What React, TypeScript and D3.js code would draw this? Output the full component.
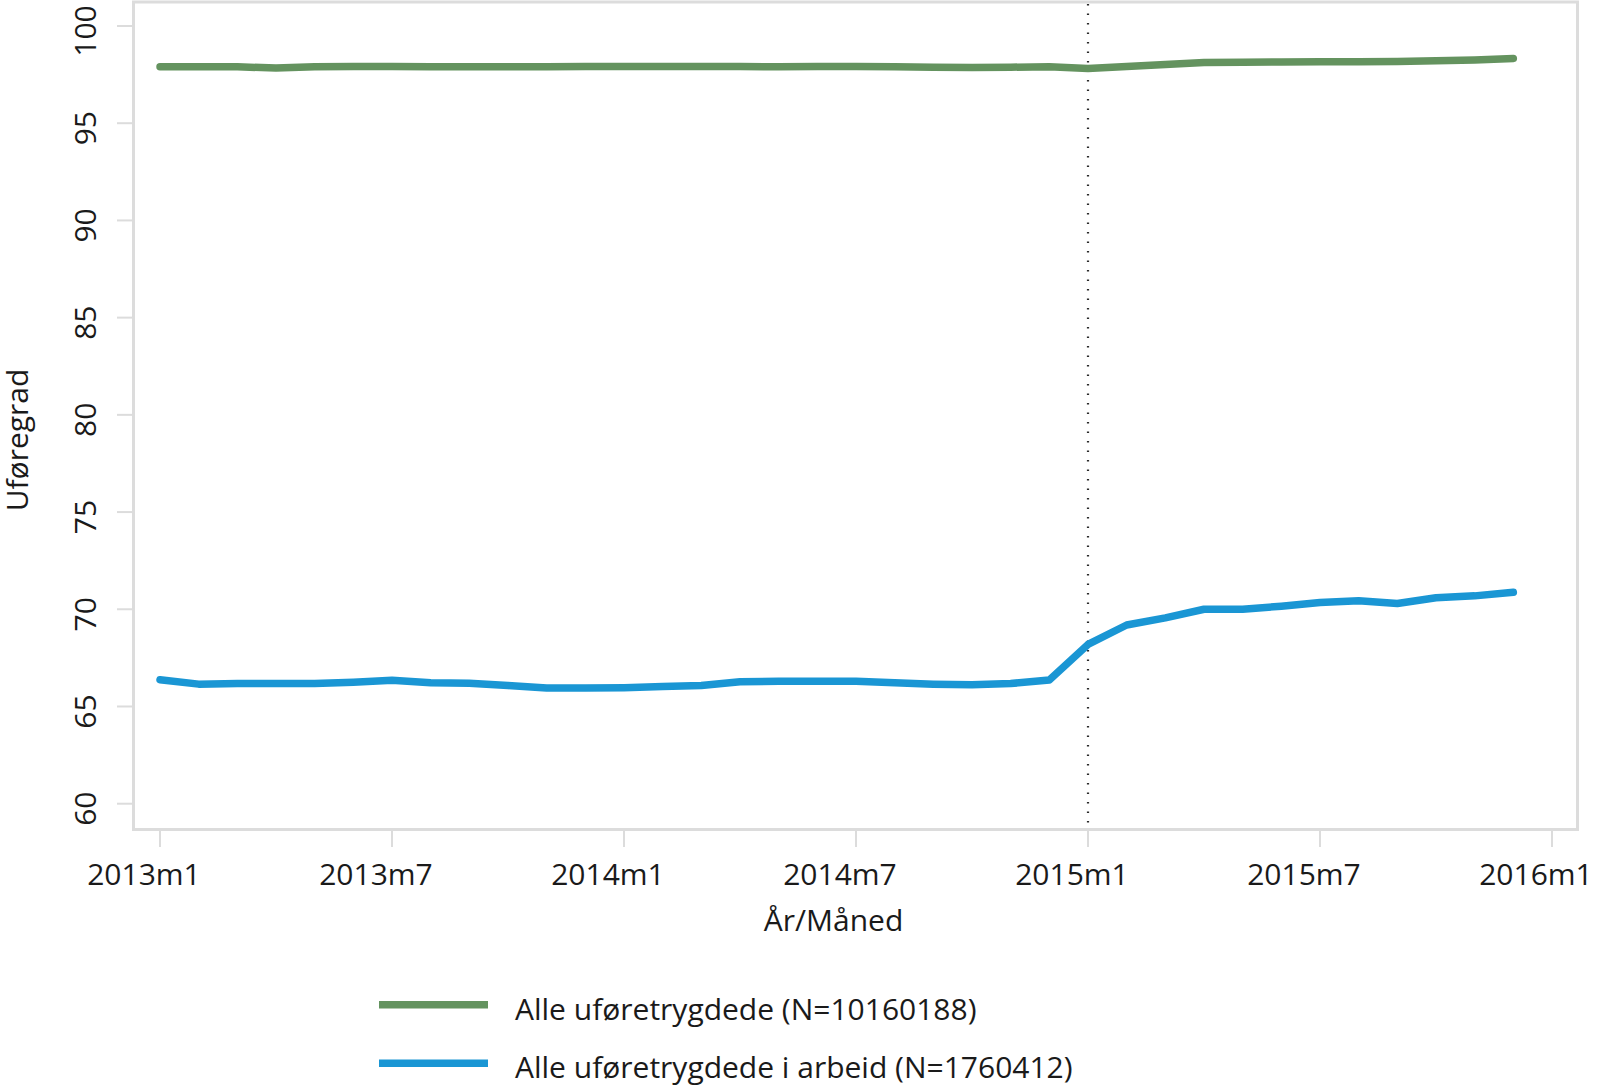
import React from "react";
import * as d3 from "d3";

const months: string[] = [];
for (const y of [2013, 2014, 2015]) for (let m = 1; m <= 12; m++) months.push(`${y}m${m}`);

const alleValues = [
  97.9, 97.9, 97.9, 97.84, 97.9, 97.92, 97.92, 97.9, 97.9, 97.9, 97.9, 97.92,
  97.92, 97.92, 97.92, 97.92, 97.9, 97.92, 97.92, 97.9, 97.88, 97.86, 97.88, 97.91,
  97.82, 97.92, 98.02, 98.12, 98.14, 98.15, 98.16, 98.16, 98.17, 98.21, 98.25, 98.33,
];
const arbeidValues = [
  66.38, 66.15, 66.18, 66.18, 66.18, 66.25, 66.35, 66.22, 66.19, 66.08, 65.95, 65.95,
  65.97, 66.03, 66.08, 66.27, 66.3, 66.3, 66.3, 66.22, 66.15, 66.12, 66.18, 66.36,
  68.19, 69.19, 69.56, 70.0, 70.0, 70.16, 70.35, 70.44, 70.3, 70.59, 70.69, 70.88,
];
const xTickLabels = ["2013m1", "2013m7", "2014m1", "2014m7", "2015m1", "2015m7", "2016m1"];
const yTicks = [60, 65, 70, 75, 80, 85, 90, 95, 100];
const seriesNames = ["Alle uføretrygdede (N=10160188)", "Alle uføretrygdede i arbeid (N=1760412)"];
const seriesColors = ["#64935f", "#1a96d4"];
const markerMonth = "2015m1";

const W = 1598;
const H = 1085;
const frame = { left: 133.5, right: 1577.5, top: 2, bottom: 829.5 };
const FONT = "'Open Sans', sans-serif";

export default function App() {
  const x = d3.scaleLinear().domain([0, 36]).range([160, 1552]);
  const y = d3.scaleLinear().domain([60, 100]).range([803.7, 26]);
  const idx = (lab: string) => {
    const m = lab.match(/(\d{4})m(\d+)/)!;
    return (+m[1] - 2013) * 12 + (+m[2] - 1);
  };
  const line = d3
    .line<number>()
    .x((_, i) => x(i))
    .y((d) => y(d))
    .curve(d3.curveLinear);
  const series = [alleValues, arbeidValues];
  const mx = x(idx(markerMonth));

  return (
    <svg width={W} height={H} style={{ display: "block", position: "absolute", left: 0, top: 0 }}>
      <rect x={0} y={0} width={W} height={H} fill="#fff" />
      <rect
        x={frame.left}
        y={frame.top}
        width={frame.right - frame.left}
        height={frame.bottom - frame.top}
        fill="none"
        stroke="#dcdcdc"
        strokeWidth={3}
      />
      {yTicks.map((t) => (
        <g key={t}>
          <line x1={117} x2={frame.left} y1={y(t)} y2={y(t)} stroke="#dcdcdc" strokeWidth={2} />
          <text
            transform={`translate(95.5,${y(t) + 5}) rotate(-90)`}
            textAnchor="middle"
            fontFamily={FONT}
            fontSize={30}
            fill="#1a1a1a"
          >
            {t}
          </text>
        </g>
      ))}
      {xTickLabels.map((lab) => {
        const xx = x(idx(lab));
        return (
          <g key={lab}>
            <line x1={xx} x2={xx} y1={frame.bottom} y2={847} stroke="#dcdcdc" strokeWidth={2} />
            <text x={xx - 16} y={885} textAnchor="middle" fontFamily={FONT} fontSize={30} fill="#1a1a1a">
              {lab}
            </text>
          </g>
        );
      })}
      <line
        x1={mx}
        x2={mx}
        y1={frame.top + 2}
        y2={frame.bottom - 2}
        stroke="#2a2a2a"
        strokeWidth={2.2}
        strokeDasharray="1.5,8"
      />
      {series.map((s, i) => (
        <path
          key={i}
          d={line(s) || ""}
          fill="none"
          stroke={seriesColors[i]}
          strokeWidth={7.5}
          strokeLinecap="round"
          strokeLinejoin="round"
        />
      ))}
      <text x={833.5} y={930.5} textAnchor="middle" fontFamily={FONT} fontSize={30} fill="#1a1a1a">
        År/Måned
      </text>
      <text
        transform={`translate(28,440) rotate(-90)`}
        textAnchor="middle"
        fontFamily={FONT}
        fontSize={30}
        fill="#1a1a1a"
      >
        Uføregrad
      </text>
      {seriesNames.map((n, i) => (
        <g key={n}>
          <line
            x1={379}
            x2={488}
            y1={1004.7 + i * 58.5}
            y2={1004.7 + i * 58.5}
            stroke={seriesColors[i]}
            strokeWidth={7.5}
          />
          <text x={515} y={1020 + i * 57.5} fontFamily={FONT} fontSize={30} fill="#1a1a1a">
            {n}
          </text>
        </g>
      ))}
    </svg>
  );
}
